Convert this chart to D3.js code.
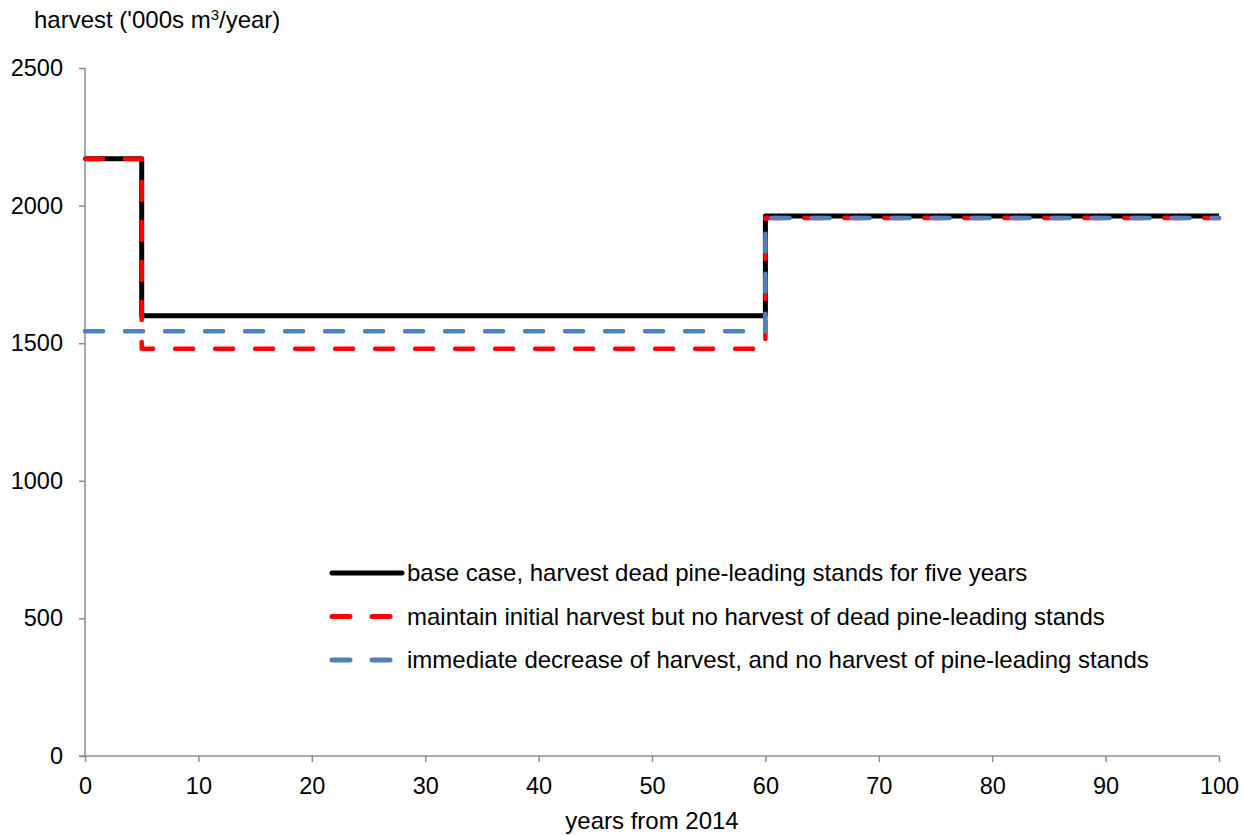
<!DOCTYPE html>
<html>
<head>
<meta charset="utf-8">
<script src="https://cdn.jsdelivr.net/npm/d3@7"></script>
<style>
  body { margin: 0; background: #fff; }
  text { font-family: "Liberation Sans", Arial, sans-serif; fill: #000; }
</style>
</head>
<body>
<div id="chart"></div>
<script>
// step series: [year, harvest]
var baseCase = [[0, 2170], [5, 2170], [5, 1600], [60, 1600], [60, 1962], [100, 1962]];
var maintainInitial = [[0, 2170], [5, 2170], [5, 1480], [60, 1480], [60, 1955], [100, 1955]];
var immediateDecrease = [[0, 1543], [60, 1543], [60, 1955], [100, 1955]];

var seriesNames = [
  'base case, harvest dead pine-leading stands for five years',
  'maintain initial harvest but no harvest of dead pine-leading stands',
  'immediate decrease of harvest, and no harvest of pine-leading stands'
];
var xTicks = [0, 10, 20, 30, 40, 50, 60, 70, 80, 90, 100];
var yTicks = [0, 500, 1000, 1500, 2000, 2500];

var width = 1246, height = 835,
    marginLeft = 85, marginRight = 27, marginTop = 68, marginBottom = 79,
    fontSize = '23.5px',
    legendFontSize = '24px';

var svg = d3.select('#chart')
  .append('svg')
  .attr('width', width)
  .attr('height', height);

var x = d3.scaleLinear().domain([0, 100]).range([marginLeft, width - marginRight]);
var y = d3.scaleLinear().domain([0, 2500]).range([height - marginBottom, marginTop]);

var xAxis = svg.append('g')
  .attr('transform', 'translate(0,' + y(0) + ')')
  .call(d3.axisBottom(x).tickValues(xTicks).tickFormat(d3.format('d'))
    .tickSize(6).tickPadding(15).tickSizeOuter(0));
var yAxis = svg.append('g')
  .attr('transform', 'translate(' + x(0) + ',0)')
  .call(d3.axisLeft(y).tickValues(yTicks).tickFormat(d3.format('d'))
    .tickSize(6).tickPadding(16).tickSizeOuter(0));

[xAxis, yAxis].forEach(function (g) {
  g.selectAll('path, line').attr('stroke', '#8c8c8c').attr('stroke-width', 1.5);
  g.selectAll('text').style('font-size', fontSize).attr('fill', '#000');
});
yAxis.select('.domain').attr('d', 'M0,' + y(2500) + 'V' + y(0));
xAxis.select('.domain').attr('d', 'M' + (x(0) - 6) + ',0H' + x(100));

var line = d3.line()
  .x(function (d) { return x(d[0]); })
  .y(function (d) { return y(d[1]); });

var styles = [
  { color: '#000000', width: 5, dash: null, cap: 'butt' },
  { color: '#ff0000', width: 4.5, dash: '18,22', cap: 'round' },
  { color: '#4f81bd', width: 4.5, dash: '18,22', cap: 'round' }
];
var allSeries = [baseCase, maintainInitial, immediateDecrease];

allSeries.forEach(function (s, i) {
  svg.append('path')
    .datum(s)
    .attr('d', line)
    .attr('fill', 'none')
    .attr('stroke', styles[i].color)
    .attr('stroke-width', styles[i].width)
    .attr('stroke-linecap', styles[i].cap)
    .attr('stroke-linejoin', 'round')
    .attr('stroke-dasharray', styles[i].dash);
});

// legend
var legend = svg.append('g').attr('transform', 'translate(332,573)');
var row = legend.selectAll('g')
  .data(seriesNames).enter()
  .append('g')
  .attr('transform', function (d, i) { return 'translate(0,' + (i * 43.5) + ')'; });

row.append('line')
  .attr('x1', 0)
  .attr('x2', 70)
  .attr('stroke', function (d, i) { return styles[i].color; })
  .attr('stroke-width', 5)
  .attr('stroke-linecap', 'round')
  .attr('stroke-dasharray', function (d, i) { return i === 0 ? null : '18,22'; });

row.append('text')
  .attr('x', 75)
  .attr('dy', '0.35em')
  .style('font-size', legendFontSize)
  .text(function (d) { return d; });

// axis titles
var title = svg.append('text')
  .attr('x', 34)
  .attr('y', 28)
  .style('font-size', legendFontSize);
title.append('tspan').text("harvest ('000s m");
title.append('tspan').attr('dy', -8).style('font-size', '15px').text('3');
title.append('tspan').attr('dy', 8).text('/year)');

svg.append('text')
  .attr('x', x(50))
  .attr('y', 829)
  .attr('text-anchor', 'middle')
  .style('font-size', legendFontSize)
  .text('years from 2014');
</script>
</body>
</html>
